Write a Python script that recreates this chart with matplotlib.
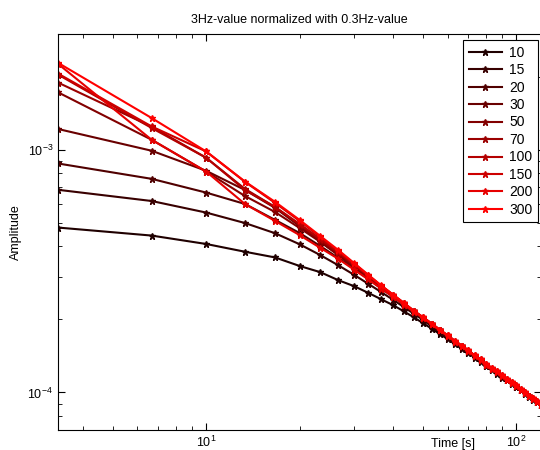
import numpy as np
import matplotlib
matplotlib.use('Agg')
import matplotlib.pyplot as plt
from matplotlib.ticker import NullFormatter

plt.rcParams['font.family'] = ['Liberation Sans', 'DejaVu Sans']

# Time axis [s] (one sample every 1/0.3 Hz)
time = [3.33, 6.67, 10.0, 13.33, 16.67, 20.0, 23.33, 26.67, 30.0, 33.33, 36.67, 40.0,
        43.33, 46.67, 50.0, 53.33, 56.67, 60.0, 63.33, 66.67, 70.0, 73.33, 76.67, 80.0,
        83.33, 86.67, 90.0, 93.33, 96.67, 100.0, 103.33, 106.67, 110.0, 113.33, 116.67, 120.0]

labels = ['10', '15', '20', '30', '50', '70', '100', '150', '200', '300']

# Amplitudes in units of 1e-4
amp_10 = [4.78, 4.43, 4.09, 3.80, 3.60, 3.32, 3.13, 2.90, 2.74, 2.57, 2.42, 2.29,
          2.16, 2.04, 1.93, 1.83, 1.74, 1.66, 1.58, 1.51, 1.45, 1.39, 1.33, 1.29,
          1.24, 1.19, 1.15, 1.12, 1.08, 1.05, 1.02, 0.989, 0.959, 0.933, 0.910, 0.887]
amp_15 = [6.84, 6.15, 5.51, 4.99, 4.53, 4.08, 3.68, 3.34, 3.05, 2.80, 2.59, 2.41,
          2.25, 2.11, 1.99, 1.87, 1.77, 1.68, 1.60, 1.53, 1.47, 1.40, 1.35, 1.29,
          1.25, 1.20, 1.16, 1.12, 1.09, 1.05, 1.02, 0.991, 0.964, 0.936, 0.912, 0.888]
amp_20 = [8.78, 7.59, 6.66, 5.98, 5.14, 4.54, 4.01, 3.58, 3.23, 2.93, 2.68, 2.48,
          2.30, 2.15, 2.02, 1.90, 1.80, 1.70, 1.62, 1.54, 1.47, 1.41, 1.35, 1.30,
          1.25, 1.21, 1.16, 1.13, 1.09, 1.05, 1.02, 0.993, 0.964, 0.937, 0.912, 0.888]
amp_30 = [12.18, 9.91, 8.19, 6.83, 5.76, 4.85, 4.19, 3.68, 3.27, 2.96, 2.70, 2.49,
          2.31, 2.16, 2.03, 1.91, 1.80, 1.71, 1.62, 1.55, 1.48, 1.41, 1.36, 1.30,
          1.25, 1.21, 1.17, 1.13, 1.09, 1.06, 1.02, 0.995, 0.966, 0.939, 0.914, 0.890]
amp_50 = [17.25, 11.00, 8.13, 6.45, 5.54, 4.76, 4.17, 3.68, 3.28, 2.97, 2.71, 2.50,
          2.32, 2.16, 2.03, 1.91, 1.80, 1.71, 1.62, 1.55, 1.48, 1.41, 1.36, 1.30,
          1.25, 1.21, 1.17, 1.13, 1.09, 1.06, 1.02, 0.995, 0.966, 0.939, 0.914, 0.890]
amp_70 = [18.92, 12.45, 9.27, 6.90, 5.81, 4.90, 4.25, 3.75, 3.34, 3.01, 2.74, 2.51,
          2.33, 2.16, 2.03, 1.91, 1.80, 1.71, 1.62, 1.55, 1.48, 1.41, 1.36, 1.30,
          1.25, 1.21, 1.17, 1.13, 1.09, 1.06, 1.02, 0.995, 0.966, 0.939, 0.914, 0.890]
amp_100 = [20.42, 12.30, 9.27, 6.83, 5.81, 4.95, 4.29, 3.79, 3.36, 3.02, 2.75, 2.52,
           2.33, 2.17, 2.04, 1.92, 1.81, 1.72, 1.63, 1.56, 1.49, 1.42, 1.37, 1.31,
           1.26, 1.22, 1.18, 1.14, 1.10, 1.07, 1.03, 1.00, 0.971, 0.944, 0.919, 0.895]
amp_150 = [20.61, 12.48, 9.84, 7.38, 6.04, 5.09, 4.37, 3.82, 3.39, 3.04, 2.75, 2.53,
           2.34, 2.17, 2.04, 1.92, 1.81, 1.72, 1.63, 1.56, 1.49, 1.42, 1.37, 1.31,
           1.26, 1.22, 1.18, 1.14, 1.10, 1.07, 1.03, 1.00, 0.971, 0.944, 0.919, 0.895]
amp_200 = [22.60, 11.00, 8.13, 5.98, 5.09, 4.45, 3.94, 3.55, 3.20, 2.92, 2.68, 2.48,
           2.30, 2.15, 2.03, 1.91, 1.80, 1.71, 1.62, 1.55, 1.48, 1.41, 1.36, 1.30,
           1.25, 1.21, 1.17, 1.13, 1.09, 1.06, 1.02, 0.995, 0.966, 0.939, 0.914, 0.890]
amp_300 = [22.82, 13.52, 9.84, 7.40, 6.10, 5.14, 4.41, 3.86, 3.41, 3.05, 2.76, 2.53,
           2.34, 2.17, 2.04, 1.92, 1.81, 1.72, 1.63, 1.56, 1.49, 1.42, 1.37, 1.31,
           1.26, 1.22, 1.18, 1.14, 1.10, 1.07, 1.03, 1.00, 0.971, 0.944, 0.919, 0.895]

series = [amp_10, amp_15, amp_20, amp_30, amp_50, amp_70, amp_100, amp_150, amp_200, amp_300]

fig = plt.figure(figsize=(5.4, 4.5), dpi=100)
ax = fig.add_axes([58/540, 1 - 430/450, 483/540, 396/450])

reds = np.linspace(0.12, 1.0, len(series))
for lab, amp, r in zip(labels, series, reds):
    ax.plot(time, np.array(amp) * 1e-4, '-', marker='*', color=(r, 0, 0),
            lw=1.5, ms=5, mew=1, label=lab)

ax.set_xscale('log')
ax.set_yscale('log')
ax.set_xlim(3.33, 120)
ax.set_ylim(7e-5, 3e-3)
ax.xaxis.set_minor_formatter(NullFormatter())
ax.yaxis.set_minor_formatter(NullFormatter())
ax.tick_params(which='both', direction='in', top=True, right=True, labelsize=9)
ax.tick_params(which='major', length=5)
ax.tick_params(which='minor', length=3)
for s in ax.spines.values():
    s.set_linewidth(0.8)

ax.set_title('3Hz-value normalized with 0.3Hz-value', fontsize=9, pad=8)
ax.set_ylabel('Amplitude', fontsize=9)
ax.set_xlabel('Time [s]', fontsize=9)
ax.xaxis.set_label_coords((453 - 58) / 483, -8 / 396)

leg = ax.legend(loc='upper right', bbox_to_anchor=(538/540, 1 - 40/450),
                bbox_transform=fig.transFigure, borderaxespad=0, fontsize=10,
                fancybox=False, edgecolor='black', framealpha=1,
                handlelength=2.4, handletextpad=0.5, labelspacing=0.25, borderpad=0.4)
leg.get_frame().set_linewidth(0.8)

fig.savefig('out.png', dpi=100)
